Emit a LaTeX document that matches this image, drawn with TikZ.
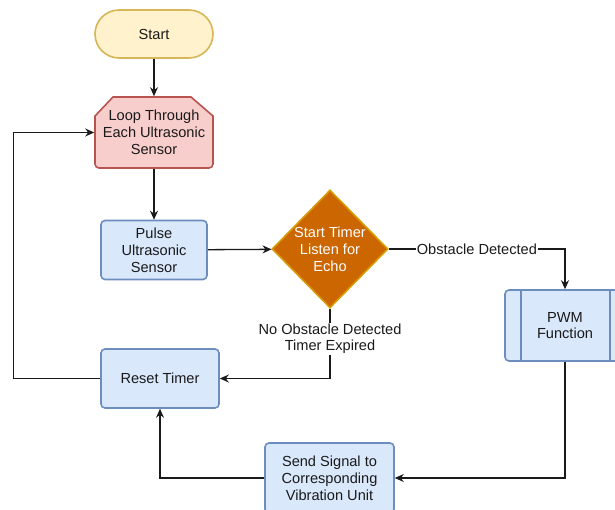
\documentclass[tikz,border=0pt]{standalone}
\usepackage{fontspec}
\setmainfont{Liberation Sans}
\usetikzlibrary{shapes.geometric,arrows.meta}
\definecolor{yfill}{HTML}{FFF2CC}
\definecolor{ydraw}{HTML}{D6B656}
\definecolor{rfill}{HTML}{F8CECC}
\definecolor{rdraw}{HTML}{B85450}
\definecolor{bfill}{HTML}{DAE8FC}
\definecolor{bdraw}{HTML}{6C8EBF}
\definecolor{ofill}{HTML}{CC6600}
\definecolor{odraw}{HTML}{D79B00}
\definecolor{ink}{HTML}{1A1A1A}
\tikzset{
  txt/.style={font=\fontsize{14.6}{16.8}\selectfont, align=center, text=ink},
  base/.style={txt, line width=1.6pt, inner sep=0pt},
  bluebox/.style={base, draw=bdraw, fill=bfill, rounded corners=4pt},
  conn/.style={line width=1.3pt, draw=ink, -{Stealth[length=9pt,width=8pt]}},
  lbl/.style={txt, fill=white, inner sep=1pt}
}
\begin{document}
\begin{tikzpicture}[x=1pt,y=-1pt]
\useasboundingbox (0,0) rectangle (615,510);

% terminator
\node[base, draw=ydraw, fill=yfill, rounded corners=24pt, minimum width=118, minimum height=48] (start) at (154,34) {Start};

% loop limit shape
\draw[line width=1.6pt, draw=rdraw, fill=rfill]
  (113,97) -- (191,97) -- (213,116) [rounded corners=4pt] -- (213,168) -- (95,168) [sharp corners] -- (95,116) -- cycle;
\node[base, minimum width=118, minimum height=71] (loop) at (154,132.5) {Loop Through\\Each Ultrasonic\\Sensor};

\node[bluebox, minimum width=106, minimum height=59] (pulse) at (154,250) {Pulse\\Ultrasonic\\Sensor};

\node[base, diamond, draw=odraw, fill=ofill, text=white, minimum width=116, minimum height=118] (dia) at (330,249) {Start Timer\\Listen for\\Echo};

% predefined process
\node[bluebox, minimum width=120, minimum height=71] (pwm) at (565,325.5) {PWM\\Function};
\draw[line width=1.6pt, draw=bdraw] ([xshift=17pt]pwm.north west) -- ([xshift=17pt]pwm.south west);
\draw[line width=1.6pt, draw=bdraw] ([xshift=-16pt]pwm.north east) -- ([xshift=-16pt]pwm.south east);

\node[bluebox, minimum width=118, minimum height=59] (reset) at (160,378.5) {Reset Timer};

\node[bluebox, minimum width=129, minimum height=70] (send) at (329.5,478) {Send Signal to\\Corresponding\\Vibration Unit};

% connectors
\draw[conn] (start) -- (loop);
\draw[conn] (loop) -- (pulse);
\draw[conn] (pulse) -- (dia);
\draw[conn] (dia.east) -- node[lbl] {Obstacle Detected} (dia.east -| pwm.north) -- (pwm.north);
\draw[conn] (dia.south) -- node[lbl, pos=0.43] {No Obstacle Detected\\Timer Expired} (dia.south |- reset.east) -- (reset.east);
\draw[conn] (pwm.south) -- (pwm.south |- send.east) -- (send.east);
\draw[conn] (send.west) -- (reset.south |- send.west) -- (reset.south);
\draw[conn] (reset.west) -- ++(-87,0) |- (loop.west);
\end{tikzpicture}
\end{document}
